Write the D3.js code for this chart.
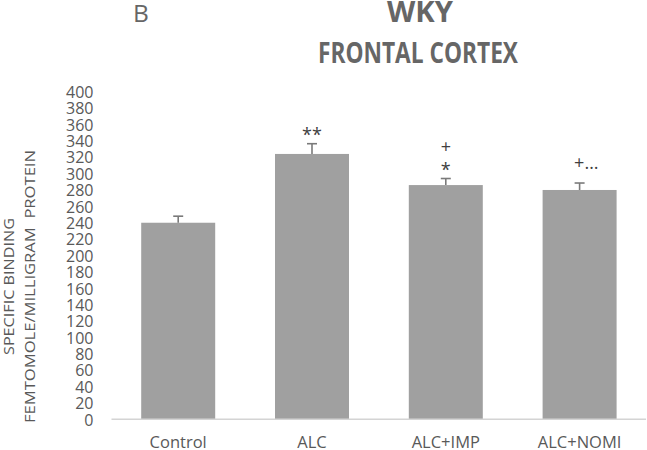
<!DOCTYPE html>
<html>
<head>
<meta charset="utf-8">
<script src="https://cdn.jsdelivr.net/npm/d3@7"></script>
<style>
body{margin:0;background:#fff;}
svg{display:block;font-family:"Open Sans",sans-serif;}
</style>
</head>
<body>
<svg id="chart" width="647" height="450"></svg>
<script>
const categories = ["Control", "ALC", "ALC+IMP", "ALC+NOMI"];
const values = [240, 324, 286, 280];
const errors = [8, 12.5, 8, 8.5];
const annotations = [[], ["**"], ["+", "*"], ["+…"]];
const yTicks = d3.range(0, 401, 20);

const svg = d3.select("#chart");
const x = d3.scaleBand().domain(categories).range([111.3, 646.5]).paddingInner(0.447).paddingOuter(0.2235);
const y = d3.scaleLinear().domain([0, 400]).range([419.3, 91.7]);

// title
svg.append("text").attr("x", 133).attr("y", 21.7).attr("fill", "#666").attr("font-size", 24.5).text("B");
svg.append("text").attr("x", 420).attr("y", 21.7).attr("text-anchor", "middle").attr("fill", "#666")
  .attr("font-size", 28).attr("font-weight", "bold").attr("textLength", 66).attr("lengthAdjust", "spacingAndGlyphs").text("WKY");
svg.append("text").attr("x", 418).attr("y", 63.3).attr("text-anchor", "middle").attr("fill", "#666")
  .attr("font-size", 28).attr("font-weight", "bold").attr("textLength", 200).attr("lengthAdjust", "spacingAndGlyphs").text("FRONTAL CORTEX");

// y axis ticks
const yAxis = d3.axisLeft(y).tickValues(yTicks).tickSize(0).tickPadding(0);
const gy = svg.append("g").attr("transform", "translate(93.5,0)").call(yAxis);
gy.select(".domain").remove();
gy.selectAll("text").attr("fill", "#595959").attr("font-size", 16).attr("font-family", "Open Sans").attr("dy", "0.36em");

// y label
const yl = svg.append("g").attr("transform", "translate(0,286.5) rotate(-90)");
yl.append("text").attr("x", 0).attr("y", 13.5).attr("text-anchor", "middle").attr("fill", "#595959")
  .attr("font-size", 14).attr("textLength", 137).attr("lengthAdjust", "spacingAndGlyphs").text("SPECIFIC BINDING");
yl.append("text").attr("x", 0).attr("y", 35).attr("text-anchor", "middle").attr("fill", "#595959")
  .attr("font-size", 14).attr("textLength", 273).attr("lengthAdjust", "spacingAndGlyphs").attr("xml:space", "preserve").text("FEMTOMOLE/MILLIGRAM  PROTEIN");

// bars
svg.selectAll("rect.bar").data(categories).join("rect").attr("class", "bar")
  .attr("x", d => x(d)).attr("width", x.bandwidth())
  .attr("y", (d, i) => y(values[i])).attr("height", (d, i) => y(0) - y(values[i]))
  .attr("fill", "#a0a0a0");

// error bars
const eb = svg.append("g").attr("stroke", "#7a7a7a").attr("stroke-width", 1.6);
categories.forEach((c, i) => {
  const cx = x(c) + x.bandwidth() / 2;
  eb.append("line").attr("x1", cx).attr("x2", cx).attr("y1", y(values[i])).attr("y2", y(values[i] + errors[i]));
  eb.append("line").attr("x1", cx - 5).attr("x2", cx + 5).attr("y1", y(values[i] + errors[i])).attr("y2", y(values[i] + errors[i]));
});

// annotations (significance marks)
categories.forEach((c, i) => {
  const cx = x(c) + x.bandwidth() / 2;
  const top = y(values[i] + errors[i]);
  const ann = annotations[i];
  let base = top;
  ann.slice().reverse().forEach((t, k) => {
    const isPlus = t.startsWith("+");
    if (k === 0) base = top - (isPlus ? 14 : 3);
    else base = base - 22.5;
    const tx = svg.append("text").attr("y", base).attr("fill", "#404040").attr("font-size", 18);
    if (t === "+…") tx.attr("x", cx - 5.5).attr("text-anchor", "start").text(t);
    else tx.attr("x", cx).attr("text-anchor", "middle").text(t);
  });
});

// x axis
svg.append("line").attr("x1", 111.5).attr("x2", 646).attr("y1", 419.3).attr("y2", 419.3).attr("stroke", "#d4d4d4").attr("stroke-width", 1.5);
svg.selectAll("text.xl").data(categories).join("text").attr("class", "xl")
  .attr("x", d => x(d) + x.bandwidth() / 2).attr("y", 447.5).attr("text-anchor", "middle")
  .attr("fill", "#595959").attr("font-size", 16.5).text(d => d);
</script>
</body>
</html>
